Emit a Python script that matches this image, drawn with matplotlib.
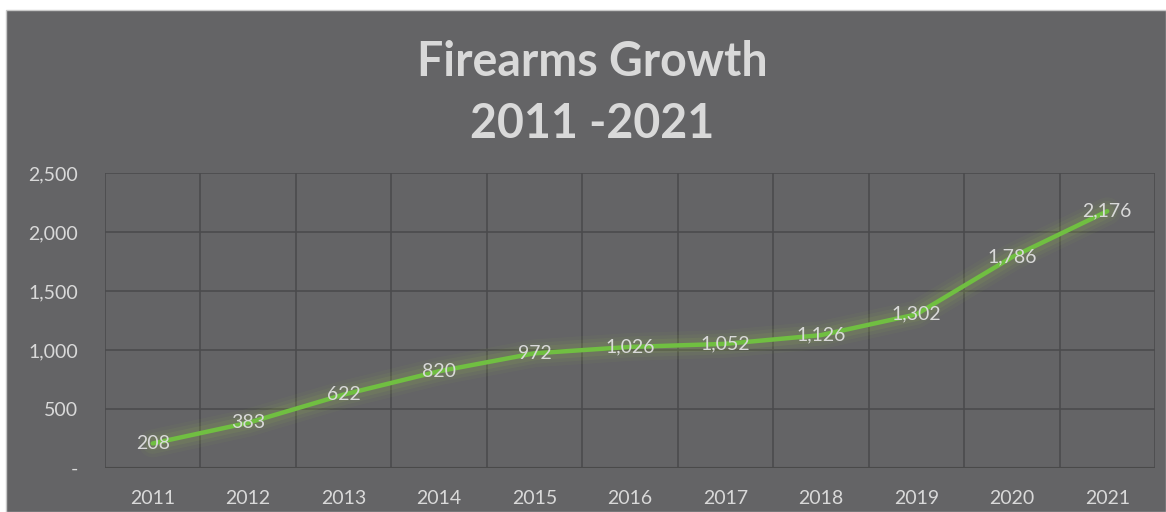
import matplotlib
matplotlib.use("Agg")
import matplotlib.pyplot as plt
from matplotlib.patches import Rectangle

# data
years = ["2011", "2012", "2013", "2014", "2015", "2016", "2017", "2018", "2019", "2020", "2021"]
firearms = [208, 383, 622, 820, 972, 1026, 1052, 1126, 1302, 1786, 2176]
y_ticks = [0, 500, 1000, 1500, 2000, 2500]
y_tick_labels = ["-", "500", "1,000", "1,500", "2,000", "2,500"]

BG = "#646466"
GRID = "#4b4b4d"
TXT = "#d9d9d9"
GREEN = "#70bf41"

plt.rcParams["font.family"] = ["Lato", "DejaVu Sans"]

fig = plt.figure(figsize=(11.66, 5.12), dpi=100, facecolor="white")
# gray chart area with a thin white margin on top/left
fig.patches.append(Rectangle((6 / 1166, 0), 1 - 6 / 1166, 1 - 10 / 512,
                             transform=fig.transFigure, facecolor=BG,
                             edgecolor="#c8c8c8", linewidth=1.0, zorder=-10))

ax = fig.add_axes([105 / 1166, 1 - 468 / 512, 1050 / 1166, 295 / 512])
ax.patch.set_alpha(0)

x = list(range(len(years)))
ax.set_xlim(-0.5, len(years) - 0.5)
ax.set_ylim(0, 2500)

# grid: horizontal at ticks, vertical between categories
for yv in y_ticks[1:]:
    ax.axhline(yv, color=GRID, linewidth=1.2, zorder=1)
for i in range(len(years) + 1):
    ax.axvline(i - 0.5, color=GRID, linewidth=1.2, zorder=1)
ax.axhline(0, color="#4a4a4a", linewidth=1.5, zorder=1)

for s in ax.spines.values():
    s.set_visible(False)

# soft glow behind the line
for w, a in [(20, 0.05), (15, 0.07), (10, 0.10)]:
    ax.plot(x, firearms, color="#9cc44c", linewidth=w, alpha=a,
            solid_capstyle="round", solid_joinstyle="round", zorder=2)
ax.plot(x, firearms, color=GREEN, linewidth=3.2,
        solid_capstyle="round", solid_joinstyle="round", zorder=3)

for xi, v in zip(x, firearms):
    ax.text(xi, v, f"{v:,}", ha="center", va="center", fontsize=14,
            color=TXT, zorder=4)

ax.set_xticks(x)
ax.set_xticklabels(years)
ax.set_yticks(y_ticks)
ax.set_yticklabels(y_tick_labels)
ax.tick_params(axis="both", length=0, colors=TXT, labelsize=14)
ax.tick_params(axis="x", pad=16)
ax.tick_params(axis="y", pad=19.5)

fig.text(592 / 1166, 1 - 93 / 512, "Firearms Growth\n2011 -2021", ha="center",
         va="center", fontsize=33.5, fontweight="bold", color=TXT,
         linespacing=1.5)

fig.savefig("out.png", dpi=100, facecolor="white")
